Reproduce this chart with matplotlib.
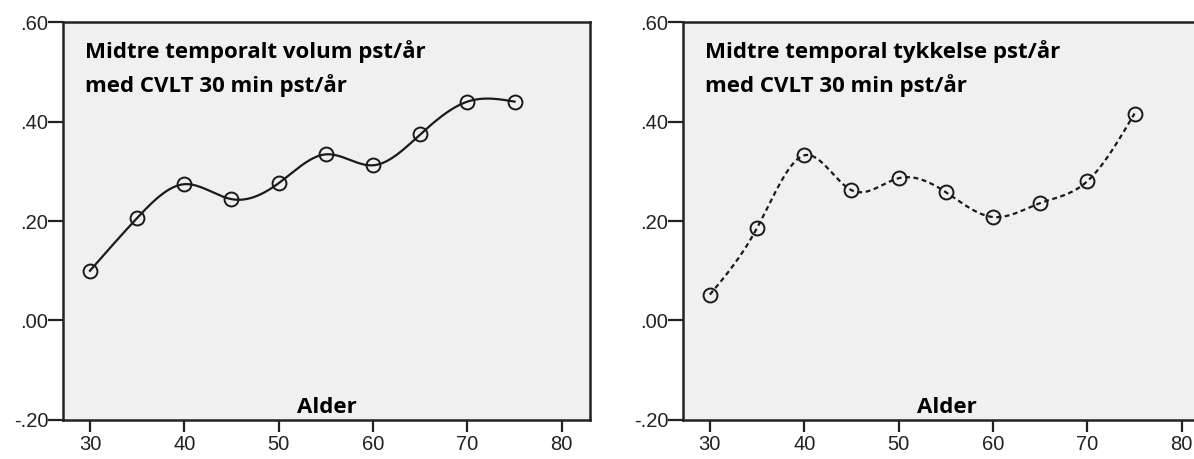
import numpy as np
import matplotlib
matplotlib.use("Agg")
import matplotlib.pyplot as plt
from matplotlib.ticker import FuncFormatter

alder = [30, 35, 40, 45, 50, 55, 60, 65, 70, 75]
volum = [0.100, 0.206, 0.274, 0.244, 0.276, 0.334, 0.312, 0.374, 0.440, 0.440]
tykkelse = [0.052, 0.186, 0.332, 0.262, 0.286, 0.258, 0.208, 0.236, 0.280, 0.416]

titles = [["Midtre temporalt volum pst/år", "med CVLT 30 min pst/år"],
          ["Midtre temporal tykkelse pst/år", "med CVLT 30 min pst/år"]]
xticks = [30, 40, 50, 60, 70, 80]
yticks = [-0.2, 0.0, 0.2, 0.4, 0.6]


def spline(x, y, n=300):
    # natural cubic spline, only used to draw a smooth line through the points
    x = np.asarray(x, float)
    y = np.asarray(y, float)
    k = len(x)
    h = np.diff(x)
    A = np.zeros((k, k))
    b = np.zeros(k)
    A[0, 0] = A[-1, -1] = 1
    for i in range(1, k - 1):
        A[i, i - 1] = h[i - 1]
        A[i, i] = 2 * (h[i - 1] + h[i])
        A[i, i + 1] = h[i]
        b[i] = 3 * ((y[i + 1] - y[i]) / h[i] - (y[i] - y[i - 1]) / h[i - 1])
    c = np.linalg.solve(A, b)
    xs = np.linspace(x[0], x[-1], n)
    idx = np.clip(np.searchsorted(x, xs) - 1, 0, k - 2)
    dx = xs - x[idx]
    hi = h[idx]
    bb = (y[idx + 1] - y[idx]) / hi - hi * (2 * c[idx] + c[idx + 1]) / 3
    dd = (c[idx + 1] - c[idx]) / (3 * hi)
    ys = y[idx] + bb * dx + c[idx] * dx ** 2 + dd * dx ** 3
    return xs, ys


def fmt(v, pos):
    s = "%.2f" % v
    return s.replace("0.", ".", 1)


fig = plt.figure(figsize=(11.94, 4.59), dpi=100)
positions = [[0.0528, 0.085, 0.4414, 0.867], [0.572, 0.085, 0.4414, 0.867]]
title_font = "Open Sans"

for i, (vals, style) in enumerate([(volum, "-"), (tykkelse, (0, (2.2, 1.6)))]):
    ax = fig.add_axes(positions[i])
    ax.set_facecolor("#f0f0f0")
    xs, ys = spline(alder, vals)
    ax.plot(xs, ys, color="#1a1a1a", lw=1.6, linestyle=style)
    ax.plot(alder, vals, "o", ms=10, mfc="none", mec="#1a1a1a", mew=1.4)
    ax.set_xlim(27.15, 83.0)
    ax.set_ylim(-0.2, 0.6)
    ax.set_xticks(xticks)
    ax.set_yticks(yticks)
    ax.yaxis.set_major_formatter(FuncFormatter(fmt))
    for sp in ax.spines.values():
        sp.set_linewidth(1.8)
        sp.set_color("#222222")
    ax.tick_params(direction="out", width=1.6, color="#222222",
                   labelsize=14.5, labelcolor="#222222")
    ax.tick_params(axis="x", length=8.5, pad=2)
    ax.tick_params(axis="y", length=10.5, pad=0)
    for lab in ax.get_xticklabels() + ax.get_yticklabels():
        lab.set_family("Liberation Sans")
    ax.text(0.042, 0.9095, titles[i][0], transform=ax.transAxes, ha="left", va="baseline",
            fontsize=16, fontweight="bold", family=title_font)
    ax.text(0.042, 0.824, titles[i][1], transform=ax.transAxes, ha="left", va="baseline",
            fontsize=16, fontweight="bold", family=title_font)
    ax.text(0.5, 0.0176, "Alder", transform=ax.transAxes, ha="center", va="baseline",
            fontsize=16, fontweight="bold", family=title_font)

fig.savefig("out.png", dpi=100)
